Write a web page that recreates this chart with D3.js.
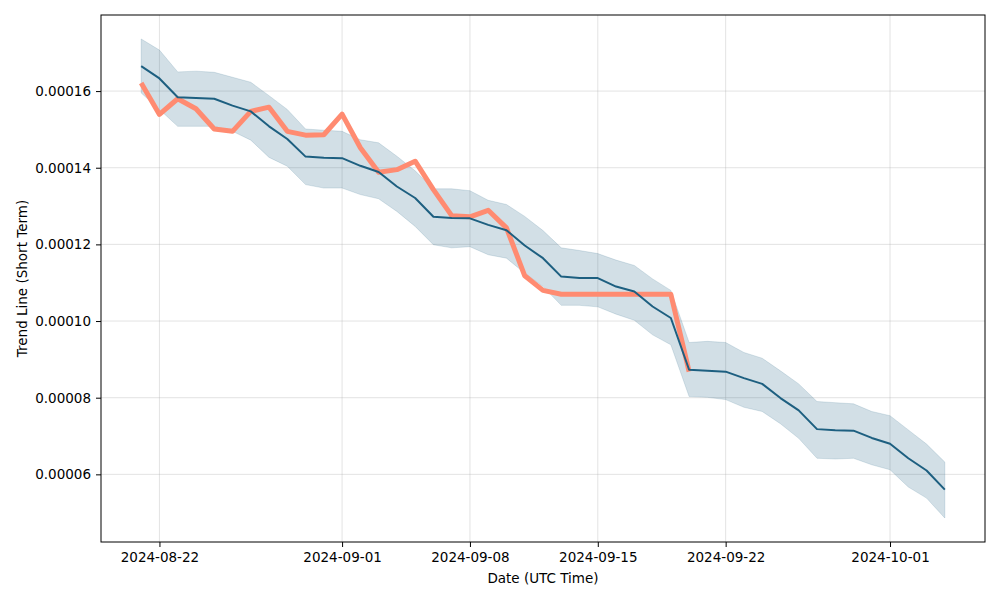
<!DOCTYPE html>
<html>
<head>
<meta charset="utf-8">
<script src="https://cdn.jsdelivr.net/npm/d3@7"></script>
<style>
  html, body { margin: 0; padding: 0; background: #fff; }
  svg text { font-family: "DejaVu Sans", sans-serif; }
</style>
</head>
<body>
<svg id="chart" width="1000" height="600"></svg>
<script>
// ---- data (values in units of the token price) ----
const startDate = "2024-08-21";
const trendLine = [
  16.65, 16.33, 15.84, 15.82, 15.80, 15.62, 15.47, 15.08, 14.75, 14.29,
  14.26, 14.25, 14.05, 13.89, 13.51, 13.21, 12.72, 12.69, 12.68, 12.51,
  12.37, 11.97, 11.64, 11.16, 11.12, 11.12, 10.90, 10.77, 10.38, 10.08,
  8.73, 8.70, 8.68, 8.51, 8.36, 7.99, 7.67, 7.18, 7.15, 7.14,
  6.95, 6.80, 6.42, 6.10, 5.60
].map(v => v * 1e-5);
const upperBand = [
  17.36, 17.07, 16.50, 16.52, 16.49, 16.36, 16.23, 15.88, 15.52, 15.01,
  14.98, 14.95, 14.73, 14.65, 14.30, 13.92, 13.45, 13.45, 13.40, 13.15,
  13.04, 12.73, 12.36, 11.91, 11.84, 11.76, 11.59, 11.45, 11.10, 10.80,
  9.44, 9.47, 9.44, 9.18, 9.03, 8.70, 8.36, 7.90, 7.87, 7.84,
  7.64, 7.53, 7.16, 6.79, 6.32
].map(v => v * 1e-5);
const lowerBand = [
  15.95, 15.52, 15.08, 15.08, 15.08, 14.95, 14.72, 14.27, 14.04, 13.56,
  13.47, 13.47, 13.30, 13.19, 12.86, 12.47, 11.99, 11.91, 11.94, 11.73,
  11.64, 11.25, 10.90, 10.41, 10.41, 10.37, 10.18, 10.02, 9.64, 9.38,
  8.03, 8.01, 7.95, 7.75, 7.64, 7.32, 6.94, 6.42, 6.40, 6.42,
  6.25, 6.12, 5.67, 5.38, 4.86
].map(v => v * 1e-5);
const priceLine = [
  16.21, 15.39, 15.80, 15.54, 15.01, 14.95, 15.47, 15.58, 14.95, 14.85,
  14.86, 15.40, 14.52, 13.88, 13.95, 14.17, 13.43, 12.75, 12.72, 12.89,
  12.43, 11.18, 10.80, 10.70, 10.70, 10.70, 10.70, 10.70, 10.70, 10.70,
  8.68
].map(v => v * 1e-5);
const xTickLabels = ["2024-08-22", "2024-09-01", "2024-09-08", "2024-09-15", "2024-09-22", "2024-10-01"];
const yTickValues = [0.00006, 0.00008, 0.00010, 0.00012, 0.00014, 0.00016];
const xLabel = "Date (UTC Time)";
const yLabel = "Trend Line (Short Term)";

// ---- layout ----
const pL = 101, pR = 985, pT = 15, pB = 542;
const svg = d3.select("#chart");

const parse = d3.utcParse("%Y-%m-%d");
const d0 = parse(startDate);
const dates = trendLine.map((_, i) => d3.utcDay.offset(d0, i));
const lastDate = dates[dates.length - 1];
const padMs = (lastDate - d0) * 0.05;

const x = d3.scaleUtc()
  .domain([new Date(+d0 - padMs), new Date(+lastDate + padMs)])
  .range([pL, pR]);

const yMin = d3.min(lowerBand), yMax = d3.max(upperBand);
const yPad = (yMax - yMin) * 0.05;
const y = d3.scaleLinear()
  .domain([yMin - yPad, yMax + yPad])
  .range([pB, pT]);

const xTicks = xTickLabels.map(parse);

// grid
const grid = svg.append("g");
grid.selectAll("line.v").data(xTicks).join("line")
  .attr("x1", d => x(d)).attr("x2", d => x(d))
  .attr("y1", pT).attr("y2", pB)
  .attr("stroke", "#b0b0b0").attr("stroke-opacity", 0.35).attr("stroke-width", 1);
grid.selectAll("line.h").data(yTickValues).join("line")
  .attr("x1", pL).attr("x2", pR)
  .attr("y1", d => y(d)).attr("y2", d => y(d))
  .attr("stroke", "#b0b0b0").attr("stroke-opacity", 0.35).attr("stroke-width", 1);

// band
const bandData = dates.map((d, i) => ({ d, lo: lowerBand[i], hi: upperBand[i] }));
const area = d3.area().x(p => x(p.d)).y0(p => y(p.lo)).y1(p => y(p.hi));
svg.append("path").datum(bandData)
  .attr("d", area)
  .attr("fill", "#1d5f80").attr("fill-opacity", 0.2)
  .attr("stroke", "#1d5f80").attr("stroke-opacity", 0.15).attr("stroke-width", 1);

// price line (orange)
const line = d3.line().x(p => x(p.d)).y(p => y(p.v));
svg.append("path").datum(priceLine.map((v, i) => ({ d: dates[i], v })))
  .attr("d", line)
  .attr("fill", "none").attr("stroke", "#ff8b71").attr("stroke-width", 5)
  .attr("stroke-linejoin", "round").attr("stroke-linecap", "butt");

// trend line
svg.append("path").datum(trendLine.map((v, i) => ({ d: dates[i], v })))
  .attr("d", line)
  .attr("fill", "none").attr("stroke", "#1d5f80").attr("stroke-width", 2)
  .attr("stroke-linejoin", "round");

// axes
const xAxis = d3.axisBottom(x).tickValues(xTicks).tickFormat(d3.utcFormat("%Y-%m-%d"))
  .tickSizeInner(5).tickSizeOuter(0).tickPadding(5);
const gx = svg.append("g").attr("transform", `translate(0,${pB})`).call(xAxis);
gx.select(".domain").remove();
gx.selectAll("text").attr("font-size", "13.5px").attr("fill", "#000").attr("font-family", "DejaVu Sans, sans-serif");
gx.selectAll("line").attr("stroke", "#000");

const yAxis = d3.axisLeft(y).tickValues(yTickValues).tickFormat(d3.format(".5f"))
  .tickSizeInner(5).tickSizeOuter(0).tickPadding(5);
const gy = svg.append("g").attr("transform", `translate(${pL},0)`).call(yAxis);
gy.select(".domain").remove();
gy.selectAll("text").attr("font-size", "13.5px").attr("fill", "#000").attr("font-family", "DejaVu Sans, sans-serif");
gy.selectAll("line").attr("stroke", "#000");

// frame
svg.append("rect").attr("x", pL).attr("y", pT)
  .attr("width", pR - pL).attr("height", pB - pT)
  .attr("fill", "none").attr("stroke", "#000").attr("stroke-width", 1);

// axis labels
svg.append("text").attr("x", (pL + pR) / 2).attr("y", 583)
  .attr("text-anchor", "middle").attr("font-size", "13.5px").text(xLabel);
svg.append("text")
  .attr("transform", `translate(27,${(pT + pB) / 2}) rotate(-90)`)
  .attr("text-anchor", "middle").attr("font-size", "13.5px").text(yLabel);
</script>
</body>
</html>
